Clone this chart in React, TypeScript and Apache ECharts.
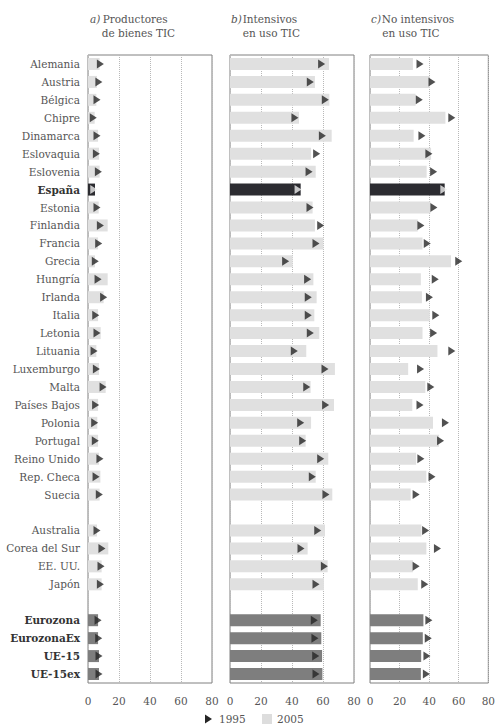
import React, { useEffect, useRef } from "react";
import * as echarts from "echarts";

const countries = ["Alemania","Austria","Bélgica","Chipre","Dinamarca","Eslovaquia","Eslovenia","España","Estonia","Finlandia","Francia","Grecia","Hungría","Irlanda","Italia","Letonia","Lituania","Luxemburgo","Malta","Países Bajos","Polonia","Portugal","Reino Unido","Rep. Checa","Suecia"];
const others = ["Australia","Corea del Sur","EE. UU.","Japón"];
const aggregates = ["Eurozona","EurozonaEx","UE-15","UE-15ex"];
const boldRows = ["España", ...aggregates];

// a) Productores de bienes TIC
const a2005c = [7.5,5.8,5.4,4.3,6.5,7.1,7.5,4.5,6.9,12.7,6.5,4.5,12.7,10.1,6.5,8.2,5.4,7.1,11.4,6.5,6,6.5,7.1,8,7.5];
const a2005o = [5.8,13.1,8.8,8.8];
const a2005g = [6.5,6.5,7.1,7.1];
const a1995c = [8,7,5.8,3.4,5.8,5.4,6.7,3.7,5.8,8,6.9,4.7,6.5,10.1,5,5.8,3.9,5.4,9.7,4.9,4.3,4.7,7.7,5.2,7.3];
const a1995o = [5.8,9,8.4,8];
const a1995g = [6.5,6.9,7.1,7.1];

// b) Intensivos en uso TIC
const b2005c = [63.9,54.8,64.1,44.5,65.6,52.3,55.3,45.6,53.3,54.8,60.2,40.4,53.8,55.9,54.4,57.6,49.2,67.7,52,67.1,52.3,48.8,63.4,55.3,66];
const b2005o = [61.3,50.1,63,60.6];
const b2005g = [58.5,58.9,59.4,59.6];
const b1995c = [59.1,51.8,61.5,41.9,59.6,55.9,51,43.9,51.6,58.5,55.5,35.9,50.1,50.5,50.5,51.8,41.5,61.3,49.5,61.7,45.6,46.9,58.5,53.1,61.9];
const b1995o = [56.6,45.8,60.9,55.5];
const b1995g = [54.4,54.8,55.3,55.5];

// c) No intensivos en uso TIC
const c2005c = [29,40.4,30.8,51,29.5,41.3,38.3,50.5,40.9,32.3,35.5,54.8,34.4,35.1,40.4,35.5,45.6,25.8,37.4,28.6,42.6,46.7,31.2,38.1,27.5];
const c2005o = [34.8,38.1,29,32.3];
const c2005g = [36.1,35.7,34.6,34.4];
const c1995c = [33.8,41.9,33.3,55.3,35.1,39.8,43,49.9,43.2,34.4,38.7,60,44.1,40.2,44.5,43,55.3,34.2,41.1,33.8,51,47.7,34.4,41.9,31.2];
const c1995o = [37.6,45.6,31.2,37];
const c1995g = [39.8,39.4,38.5,38.1];

const xTicks = [0, 20, 40, 60, 80];
const panelTitles = [
  ["a)", "Productores", "de bienes TIC"],
  ["b)", "Intensivos", "en uso TIC"],
  ["c)", "No intensivos", "en uso TIC"],
];
const legendLabels = ["1995", "2005"];

const categories = [...countries, " ", ...others, "  ", ...aggregates];
const join = (c: number[], o: number[], g: number[]) => [...c, null, ...o, null, ...g];

const FONT = '"DejaVu Serif", serif';
const FS = 10.5;
const TXT = "#555";

export default function App() {
  const ref = useRef<HTMLDivElement>(null);
  useEffect(() => {
    if (!ref.current) return;
    const chart = echarts.init(ref.current, undefined, { renderer: "svg" });
    const panels = [
      { v05: join(a2005c, a2005o, a2005g), v95: join(a1995c, a1995o, a1995g), left: 88 },
      { v05: join(b2005c, b2005o, b2005g), v95: join(b1995c, b1995o, b1995g), left: 230 },
      { v05: join(c2005c, c2005o, c2005g), v95: join(c1995c, c1995o, c1995g), left: 370 },
    ];
    const barColor = (name: string) =>
      name === "España" ? "#2c2c31" : aggregates.includes(name) ? "#7e7e7e" : "#e0e0e0";

    const series: any[] = [];
    panels.forEach((p, i) => {
      series.push({
        type: "bar",
        xAxisIndex: i,
        yAxisIndex: i,
        barWidth: 12,
        data: p.v05.map((v, k) => ({ value: v, itemStyle: { color: barColor(categories[k]) } })),
        silent: true,
      });
      series.push({
        type: "scatter",
        xAxisIndex: i,
        yAxisIndex: i,
        symbol: "path://M0,0L10,5L0,10Z",
        symbolSize: [7, 9],
        data: p.v95
          .map((v, k) => (v == null ? null : { value: [v, k], itemStyle: { color: categories[k] === "España" ? "#eeeeee" : "#262626" } }))
          .filter((d) => d !== null),
        silent: true,
        z: 3,
      });
    });

    const graphic: any[] = [];
    const titlePos = [
      [90, 102.7, 101.7],
      [231, 242.7, 242.7],
      [371, 381.7, 382.3],
    ];
    panelTitles.forEach((t, i) => {
      const [xa, x1, x2] = titlePos[i];
      graphic.push({ type: "text", x: xa, y: 19, style: { text: t[0], font: `italic ${FS}px ${FONT}`, fill: TXT, textVerticalAlign: "middle" } });
      graphic.push({ type: "text", x: x1, y: 19, style: { text: t[1], font: `${FS}px ${FONT}`, fill: TXT, textVerticalAlign: "middle" } });
      graphic.push({ type: "text", x: x2, y: 33, style: { text: t[2], font: `${FS}px ${FONT}`, fill: TXT, textVerticalAlign: "middle" } });
    });
    graphic.push({ type: "polygon", shape: { points: [[205, 714.5], [212, 719], [205, 723.5]] }, style: { fill: "#262626" } });
    graphic.push({ type: "text", x: 219, y: 719, style: { text: legendLabels[0], font: `${FS}px ${FONT}`, fill: TXT, textVerticalAlign: "middle" } });
    graphic.push({ type: "rect", shape: { x: 262, y: 714, width: 10, height: 10 }, style: { fill: "#dddddd" } });
    graphic.push({ type: "text", x: 277, y: 719, style: { text: legendLabels[1], font: `${FS}px ${FONT}`, fill: TXT, textVerticalAlign: "middle" } });

    chart.setOption({
      animation: false,
      grid: panels.map((p) => ({
        left: p.left, top: 55, width: 124, height: 628,
        show: true, borderColor: "#808080", borderWidth: 1, backgroundColor: "transparent",
      })),
      xAxis: panels.map((_, i) => ({
        type: "value", gridIndex: i, min: xTicks[0], max: xTicks[xTicks.length - 1], interval: 20,
        axisLine: { show: false }, axisTick: { show: false },
        splitLine: { show: true, lineStyle: { type: "dotted", color: "#b8b8b8", width: 1 } },
        axisLabel: { fontFamily: FONT, fontSize: FS, color: TXT, margin: 12, showMinLabel: true, showMaxLabel: true },
      })),
      yAxis: panels.map((_, i) => ({
        type: "category", gridIndex: i, data: categories, inverse: true,
        axisLine: { show: false }, axisTick: { show: false }, splitLine: { show: false },
        axisLabel: i === 0 ? {
          show: true, margin: 8, fontFamily: FONT, fontSize: FS, color: TXT, interval: 0,
          formatter: (v: string) => (boldRows.includes(v) ? `{b|${v}}` : v),
          rich: { b: { fontFamily: FONT, fontSize: FS, fontWeight: "bold", color: "#333" } },
        } : { show: false },
      })),
      series,
      graphic,
    });
    return () => chart.dispose();
  }, []);
  return <div ref={ref} style={{ position: "absolute", left: 0, top: 0, width: 498, height: 728 }} />;
}
